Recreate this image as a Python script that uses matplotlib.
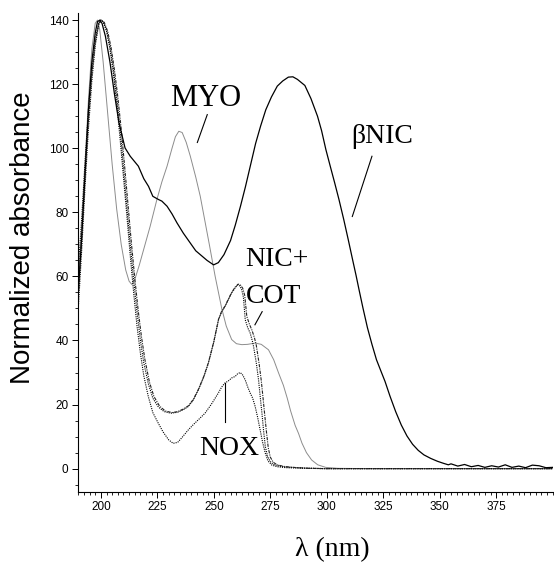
import numpy as np
import matplotlib
matplotlib.use('Agg')
import matplotlib.pyplot as plt

# Spectra: wavelength (nm) and normalized absorbance
bnic_wl = [190, 191.5, 193, 194.5, 196, 197.5, 198.5, 199.5, 200.5, 202, 204, 206, 208,
           210.7, 213, 216.6, 219, 221.1, 223, 225.5, 227, 229.3, 231.5, 233.7, 236.5,
           239.6, 242, 244, 247, 249.9, 252, 254.5, 257.4, 259.5, 261.8, 264, 266.5,
           268.5, 270.7, 273, 275.5, 278.1, 280.5, 283, 285, 287, 290.3, 293, 295.9,
           297.7, 299.6, 301.5, 303.5, 305.4, 307.5, 309.5, 311.5, 313, 314.3, 316,
           318, 320, 322, 324, 325.8, 328, 330.5, 333, 335.5, 338, 340.5, 343, 346,
           349, 351.5, 353.8, 355, 358, 361, 364, 367, 370, 373, 376, 379, 382, 385,
           388, 391, 394, 397, 400]
bnic_val = [55, 72, 92, 112, 127, 136, 139.5, 140, 139, 135, 127, 117, 108,
            100.1, 97.5, 94.4, 90.5, 88.1, 85, 84, 83.5, 81.9, 79.5, 76.7, 73.5,
            70.4, 68, 66.8, 65, 63.6, 64.3, 66.8, 71.2, 76, 81.9, 88, 95.5,
            101.5, 106.9, 112, 116, 119.4, 121, 122.2, 122.3, 121.5, 119.6, 115.5, 110,
            105.5, 99.6, 94.5, 89.2, 84, 77.8, 71.5, 65, 60.2, 55.8, 50.2,
            44, 38.8, 34, 30.4, 27.2, 22.6, 17.8, 13.6, 10.2, 7.6, 5.7, 4.3, 3.2,
            2.3, 1.7, 1.2, 1.5, 0.8, 1.3, 0.6, 1.0, 0.4, 0.9, 0.5, 1.2, 0.4, 0.8,
            0.3, 1.1, 0.9, 0.3, 0.4]

myo_wl = [190, 191.5, 193, 194.5, 196, 197.5, 198.5, 199.5, 201, 203, 205, 207, 209,
          211, 212.5, 213.7, 215, 217, 218.9, 221.8, 224.8, 227, 229.3, 231.5, 233,
          234.5, 236, 237.8, 239.6, 242, 244, 246, 248, 250.6, 253.5, 255.5, 257.9,
          260, 262.4, 265, 268.3, 271, 274.2, 276.5, 278.7, 280.8, 282.5, 284, 286,
          287.5, 289, 291, 293.3, 296, 299.5, 305, 320, 400]
myo_val = [58, 75, 95, 115, 131, 139, 140, 137, 127, 111, 95, 81, 70,
           62, 58.5, 57.5, 59, 63.5, 68.3, 75.6, 84, 89.5, 94.4, 100, 103.6,
           105.3, 104.9, 101.8, 97.5, 91, 85, 77.5, 70, 60, 50, 44.5, 40.3,
           39, 38.7, 38.8, 39.2, 38.8, 37.1, 34, 29.8, 26, 22, 18, 13.5,
           11, 8, 5, 2.7, 1.2, 0.4, 0.1, 0, 0]

nic_wl = [190, 191.5, 193, 194.5, 196, 197.5, 199, 200, 201, 202.5, 204, 205.5, 207,
          208.5, 210, 211.5, 213, 214.5, 216, 217.5, 219, 221, 223, 225.5, 228, 231,
          234, 236.5, 238.7, 241, 243.2, 245.5, 247.6, 250, 252.1, 253.5, 255, 256.5,
          257.9, 259.5, 260.6, 261.5, 262.3, 263.1, 263.9, 265, 266.1, 267, 267.6,
          268.8, 269.8, 270.6, 271.3, 272, 272.8, 273.8, 275, 276.5, 279, 282, 290,
          300, 400]
nic_val = [50, 68, 88, 106, 121, 132, 138.5, 140, 139.5, 137, 132, 125, 116,
           106, 94, 82, 70, 59, 49, 40, 33, 26.5, 22, 19.2, 17.8, 17.3,
           17.6, 18.4, 19.4, 21.5, 24.6, 28.5, 32.9, 39.5, 46.5, 49, 50.6, 52.8,
           54.8, 56.5, 57.4, 57, 56, 53.5, 46.5, 44, 42.3, 40, 38.1,
           33, 27.7, 22, 17.3, 12, 6.9, 3.8, 2.2, 1.3, 0.8, 0.5, 0.2,
           0, 0]

cot_wl = [190, 191.5, 193, 194.5, 196, 197.5, 199, 200.2, 201.5, 203, 204.5, 206,
          207.5, 209, 210.5, 212, 213.5, 215, 216.5, 218, 219.5, 221.5, 223.5, 226,
          228.5, 231.5, 234, 236.5, 238.7, 241, 243.2, 245.5, 247.6, 250, 252.1,
          253.5, 255, 256.5, 257.9, 259.5, 260.8, 261.8, 262.8, 263.7, 264.6, 265.8,
          266.9, 268, 268.8, 270, 271, 271.8, 272.5, 273.3, 274.1, 275, 276.3, 278,
          281, 285, 292, 300, 400]
cot_val = [54, 72, 92, 109, 123, 133, 138.7, 140, 139.3, 136.5, 131.5, 124.5,
           116, 106, 94.5, 82.5, 70.5, 59.5, 49.5, 41, 34, 27, 22.5, 19.5,
           18, 17.5, 17.8, 18.6, 19.6, 21.7, 24.8, 28.7, 33.1, 39.7, 46.7,
           49.2, 50.8, 53, 55, 56.7, 57.6, 57.3, 56.3, 54, 47.5, 45,
           43.2, 40.8, 38.5, 33, 27.5, 22, 17, 11.5, 6.5, 3.6, 2, 1.2,
           0.7, 0.4, 0.1, 0, 0]

nox_wl = [190, 191.5, 193, 194.5, 196, 197.5, 199, 200, 201, 202.5, 204, 205.5, 207,
          208.5, 210, 211.5, 213, 214.5, 216, 217.5, 219, 221, 223, 225.4, 227.5, 230,
          232, 234, 236, 238.7, 241, 243.5, 246.1, 249, 252, 253.5, 255, 256.3, 257.9,
          259.5, 260.5, 261.7, 262.8, 263.9, 265, 266.1, 267.2, 268.3, 269.4, 270.5,
          271.6, 272.8, 274, 275.7, 278, 282, 290, 300, 400]
nox_val = [62, 78, 96, 112, 125, 134, 139, 140, 139.5, 136.5, 131, 123.5, 114,
           103, 91, 79, 66.5, 55, 44.5, 36, 29, 22.5, 17.5, 14.2, 11.5, 9,
           7.9, 8.2, 9.8, 12.1, 13.8, 15.5, 17.3, 20.2, 23.6, 25.5, 26.8, 27.3, 28.3,
           28.8, 29.6, 30, 29.2, 27.7, 25.5, 23.6, 22, 19.4, 16, 12.1,
           8.2, 4.8, 2.4, 1.1, 0.6, 0.3, 0.1, 0, 0]

fig = plt.figure(figsize=(5.54, 5.68), dpi=100)
ax = fig.add_axes([0.1413, 0.1343, 0.8563, 0.8433])

ax.plot(myo_wl, myo_val, color='#8c8c8c', lw=0.7)
ax.plot(nox_wl, nox_val, color='black', lw=0.8, ls=(0, (1, 1)))
ax.plot(nic_wl, nic_val, color='black', lw=0.8, ls=(0, (1, 1)))
ax.plot(cot_wl, cot_val, color='#222222', lw=0.8, ls=(0, (3, 1, 1, 1)))
ax.plot(bnic_wl, bnic_val, color='black', lw=0.9)

ax.set_xlim(190, 400)
ax.set_ylim(-7.2, 142.3)
ax.set_xticks(range(200, 400, 25))
ax.set_xticks(np.arange(190, 400.1, 2.5), minor=True)
ax.set_yticks(range(0, 141, 20))
ax.set_yticks(range(-5, 141, 5), minor=True)
ax.spines['top'].set_visible(False)
ax.spines['right'].set_visible(False)
ax.spines['left'].set_linewidth(0.8)
ax.spines['bottom'].set_linewidth(0.8)
ax.tick_params(which='major', direction='out', length=4, width=0.7, pad=3,
               labelsize=8.5)
ax.tick_params(which='minor', direction='out', length=2.5, width=0.6)
for lab in ax.get_xticklabels() + ax.get_yticklabels():
    lab.set_family('Liberation Sans')

# labels and leader lines
serif = 'Liberation Serif'
ax.text(246.6, 113.3, 'MYO', family=serif, size=22, ha='center', va='baseline')
ax.plot([247.1, 242.7], [110.5, 101.8], color='black', lw=0.8)
ax.text(324.6, 101.5, 'βNIC', family=serif, size=20, ha='center', va='baseline')
ax.plot([320.0, 311.3], [97.5, 78.7], color='black', lw=0.8)
ax.text(264.0, 63.1, 'NIC+', family=serif, size=20, ha='left', va='baseline')
ax.text(264.0, 51.7, 'COT', family=serif, size=20, ha='left', va='baseline')
ax.plot([271.4, 268.2], [49.0, 44.9], color='black', lw=0.8)
ax.text(256.9, 4.3, 'NOX', family=serif, size=20, ha='center', va='baseline')
ax.plot([255.1, 255.1], [26.8, 14.6], color='black', lw=0.8)

fig.text(0.0415, 0.581, 'Normalized absorbance', family='Liberation Sans',
         size=20, rotation=90, ha='center', va='center')
fig.text(0.599, 0.032, 'λ (nm)', family=serif, size=20, ha='center', va='center')

plt.savefig('out.png', dpi=100)
